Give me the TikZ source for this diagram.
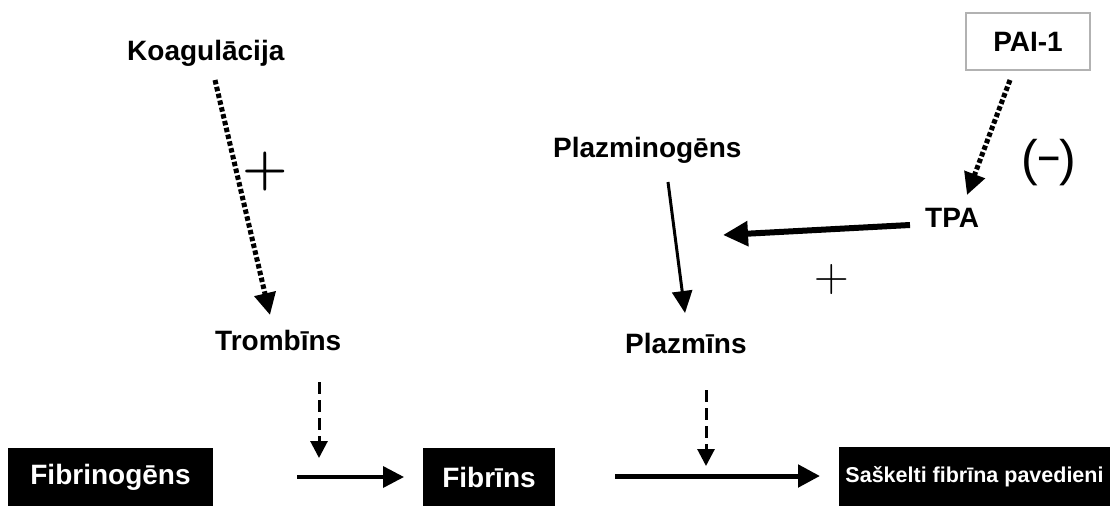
\documentclass[tikz,border=0pt]{standalone}
\usepackage{fontspec}
\newfontfamily\arialf{Liberation Sans}
\usetikzlibrary{arrows.meta}
\tikzset{
  lbl/.style={font=\arialf\bfseries\fontsize{28}{30}\selectfont, inner sep=0pt, anchor=base west},
  blk/.style={fill=black, text=white, inner sep=0pt, minimum height=58pt,
              font=\arialf\bfseries\fontsize{28}{30}\selectfont},
  dotarr/.style={line width=5pt, dash pattern=on 4.5pt off 2.5pt,
                 -{Triangle[length=22pt,width=21pt]}},
  dasharr/.style={line width=3pt, dash pattern=on 12pt off 6pt,
                  -{Triangle[length=17pt,width=17pt]}},
  solidarr/.style={line width=3.5pt, -{Triangle[length=21pt,width=21pt]}},
  sym/.style={inner sep=0pt}
}
\begin{document}
\begin{tikzpicture}[x=1pt,y=-1pt]
\useasboundingbox (0,0) rectangle (1110,506);

% text labels
\node[lbl] (koag) at (127,60) {Koagulācija};
\node[lbl] (tromb) at (215,350) {Trombīns};
\node[lbl] (plgn) at (553,157) {Plazminogēns};
\node[lbl] (plmn) at (625,353) {Plazmīns};
\node[lbl] (tpa) at (925,227) {TPA};
\node[draw=gray!60, line width=1.5pt, minimum width=124pt, minimum height=57pt,
      inner sep=0pt, font=\arialf\bfseries\fontsize{28}{30}\selectfont] (pai) at (1028,41.5) {PAI-1};

% black boxes
\node[blk, minimum width=205pt] (fbg) at (110.5,477) {Fibrinogēns\hspace{10pt}};
\node[blk, minimum width=132pt] (fbn) at (489,477) {Fibrīns\hspace{6pt}};
\node[blk, minimum width=271pt, minimum height=59pt,
      font=\arialf\bfseries\fontsize{21.5}{24}\selectfont] (sask) at (974.5,476.5) {Saškelti fibrīna pavedieni};

% symbols
\node[sym, font=\bfseries\fontsize{52}{52}\selectfont] (plusA) at (265,172) {+};
\node[sym, font=\fontsize{48}{48}\selectfont] (plusB) at (832,280) {+};
\node[sym, font=\arialf\fontsize{50}{50}\selectfont] (minus) at (1049,163) {(\kern-1pt\scalebox{0.8}[1]{−}\kern-1pt)};

% connector end points
\coordinate (k1) at (215,80);  \coordinate (k2) at (270,315);
\coordinate (p1) at (1010,80); \coordinate (p2) at (967,195);
\coordinate (t1) at (910,225); \coordinate (t2) at (723,235);
\coordinate (g1) at (668,182); \coordinate (g2) at (685,313);
\coordinate (d1) at (319,382); \coordinate (d2) at (319,458);
\coordinate (e1) at (706,390); \coordinate (e2) at (706,466);
\coordinate (f1) at (297,477); \coordinate (f2) at (404,477);
\coordinate (h1) at (615,476); \coordinate (h2) at (820,476);

% connectors
\draw[dotarr] (k1) -- (k2);
\draw[dotarr] (p1) -- (p2);
\draw[line width=6pt, -{Triangle[length=25pt,width=24pt]}] (t1) -- (t2);
\draw[line width=3pt, -{Triangle[length=22pt,width=20pt]}] (g1) -- (g2);
\draw[dasharr] (d1) -- (d2);
\draw[dasharr] (e1) -- (e2);
\draw[solidarr] (f1) -- (f2);
\draw[line width=5pt, -{Triangle[length=22pt,width=22pt]}] (h1) -- (h2);
\end{tikzpicture}
\end{document}
